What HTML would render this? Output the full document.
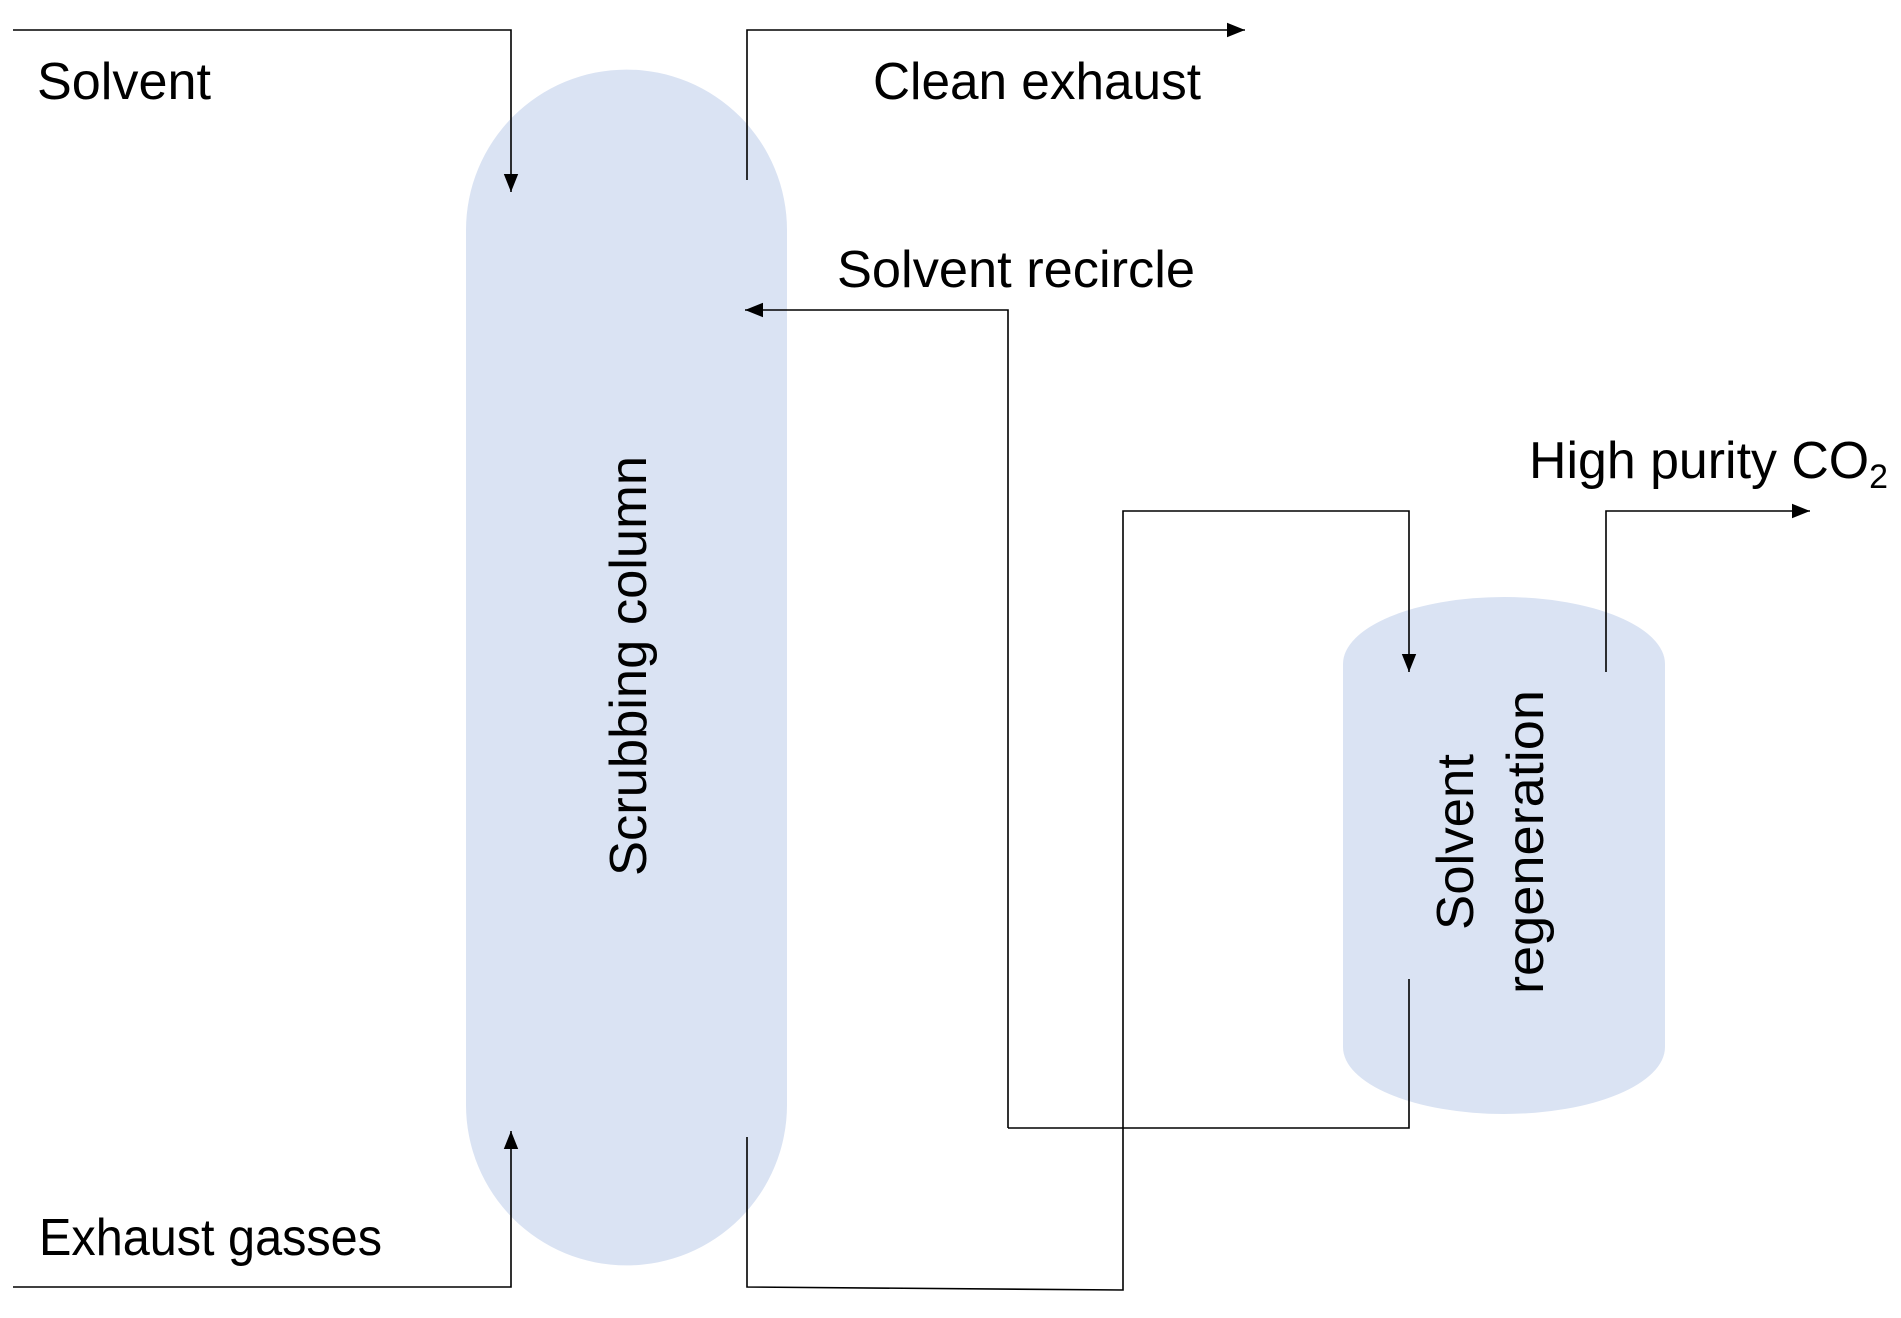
<!DOCTYPE html>
<html><head><meta charset="utf-8"><style>
html,body{margin:0;padding:0;background:#fff;}
svg{display:block;}
text{font-family:"Liberation Sans",sans-serif;fill:#000;}
</style></head><body>
<svg width="1901" height="1318" viewBox="0 0 1901 1318" xmlns="http://www.w3.org/2000/svg">
<defs>
<marker id="a" viewBox="0 0 10 10" refX="10" refY="5" markerWidth="9" markerHeight="9" markerUnits="userSpaceOnUse" orient="auto">
<path d="M0,0 L10,5 L0,10 z" fill="#000"/>
</marker>
<marker id="b" viewBox="0 0 10 10" refX="10" refY="5" markerWidth="18" markerHeight="18" markerUnits="userSpaceOnUse" orient="auto">
<path d="M0,1 L10,5 L0,9 z" fill="#000"/>
</marker>
</defs>
<!-- scrubbing column -->
<path d="M466,230 A160,160 0 0 1 787,230 L787,1105 A160,160 0 0 1 466,1105 Z" fill="#dae3f3"/>
<!-- regeneration cylinder -->
<path d="M1343,664 A161,67 0 0 1 1665,664 L1665,1047 A161,67 0 0 1 1343,1047 Z" fill="#dae3f3"/>
<g fill="none" stroke="#000" stroke-width="1.6">
<polyline points="13,30 511,30 511,192" marker-end="url(#b)"/>
<polyline points="747,180 747,30 1245,30" marker-end="url(#b)"/>
<polyline points="1008,1128 1008,310 745,310" marker-end="url(#b)"/>
<polyline points="1008,1128 1409,1128 1409,979"/>
<polyline points="13,1287 511,1287 511,1131" marker-end="url(#b)"/>
<polyline points="747,1137 747,1287 1123,1290 1123,511 1409,511 1409,672" marker-end="url(#b)"/>
<polyline points="1606,672 1606,511 1810,511" marker-end="url(#b)"/>
</g>
<text x="37" y="99" font-size="52" textLength="174" lengthAdjust="spacingAndGlyphs">Solvent</text>
<text x="873" y="99" font-size="52" textLength="328" lengthAdjust="spacingAndGlyphs">Clean exhaust</text>
<text x="837" y="287" font-size="52" textLength="358" lengthAdjust="spacingAndGlyphs">Solvent recircle</text>
<text x="1529" y="478" font-size="52" textLength="359" lengthAdjust="spacingAndGlyphs">High purity CO<tspan font-size="34" dy="10">2</tspan></text>
<text x="39" y="1255" font-size="52" textLength="343" lengthAdjust="spacingAndGlyphs">Exhaust gasses</text>
<text transform="translate(646,666) rotate(-90)" text-anchor="middle" font-size="52" textLength="420" lengthAdjust="spacingAndGlyphs">Scrubbing column</text>
<text transform="translate(1473,842) rotate(-90)" text-anchor="middle" font-size="52" textLength="176" lengthAdjust="spacingAndGlyphs">Solvent</text>
<text transform="translate(1543,842) rotate(-90)" text-anchor="middle" font-size="52" textLength="304" lengthAdjust="spacingAndGlyphs">regeneration</text>
</svg>
</body></html>
